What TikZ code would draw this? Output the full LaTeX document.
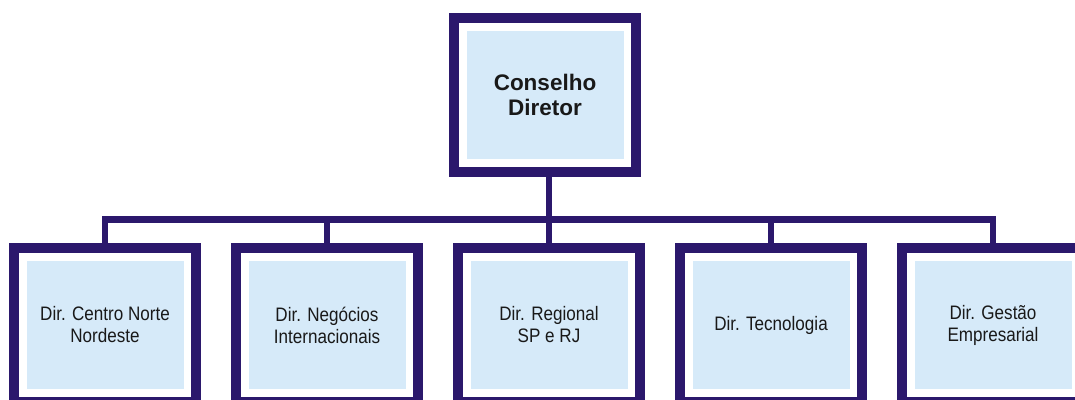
\documentclass[tikz,border=0pt]{standalone}
\usepackage{fontspec}
\setmainfont{Liberation Sans}
\newfontfamily\unitfont{Liberation Sans}[FakeStretch=0.875]
\usetikzlibrary{calc}
\definecolor{framenavy}{RGB}{43,24,108}
\definecolor{boxblue}{RGB}{214,234,249}
\begin{document}
\begin{tikzpicture}[x=1pt,y=-1pt,
  orgbox/.style={rectangle, inner sep=0pt, minimum width=172pt, minimum height=144pt,
    align=center, fill=white,
    preaction={draw=framenavy, line width=20pt},
    path picture={\fill[boxblue]
      ([shift={(7.5pt,-8pt)}]path picture bounding box.north west) rectangle
      ([shift={(-7.5pt,8pt)}]path picture bounding box.south east);}},
  headtext/.style={font=\bfseries\fontsize{22.5}{25}\selectfont, text=black!90},
  unittext/.style={font=\unitfont\fontsize{19.5}{22}\selectfont, text=black!90},
  link/.style={draw=framenavy, line width=6.5pt, line join=miter}]
  \useasboundingbox (0,0) rectangle (1075,399);
  \clip (0,0) rectangle (1075,399);

  % board at the top
  \node[orgbox, headtext] (board) at (545,95) {Conselho\\Diretor};

  % directorates
  \node[orgbox, unittext] (d1) at (105,325) {Dir. Centro Norte\\Nordeste};
  \node[orgbox, unittext] (d2) at (327,325) {Dir. Negócios\\Internacionais};
  \node[orgbox, unittext] (d3) at (549,325) {Dir. Regional\\SP e RJ};
  \node[orgbox, unittext] (d4) at (771,325) {Dir. Tecnologia};
  \node[orgbox, unittext] (d5) at (993,325) {Dir. Gestão\\Empresarial};

  % connectors
  \coordinate (bar) at (0,219.5);
  \draw[link] (d1.north) -- (d1.north |- bar) -- (d5.north |- bar) -- (d5.north);
  \draw[link] (board.south -| d3.north) -- (d3.north);
  \draw[link] (d2.north |- bar) -- (d2.north);
  \draw[link] (d4.north |- bar) -- (d4.north);
\end{tikzpicture}
\end{document}
